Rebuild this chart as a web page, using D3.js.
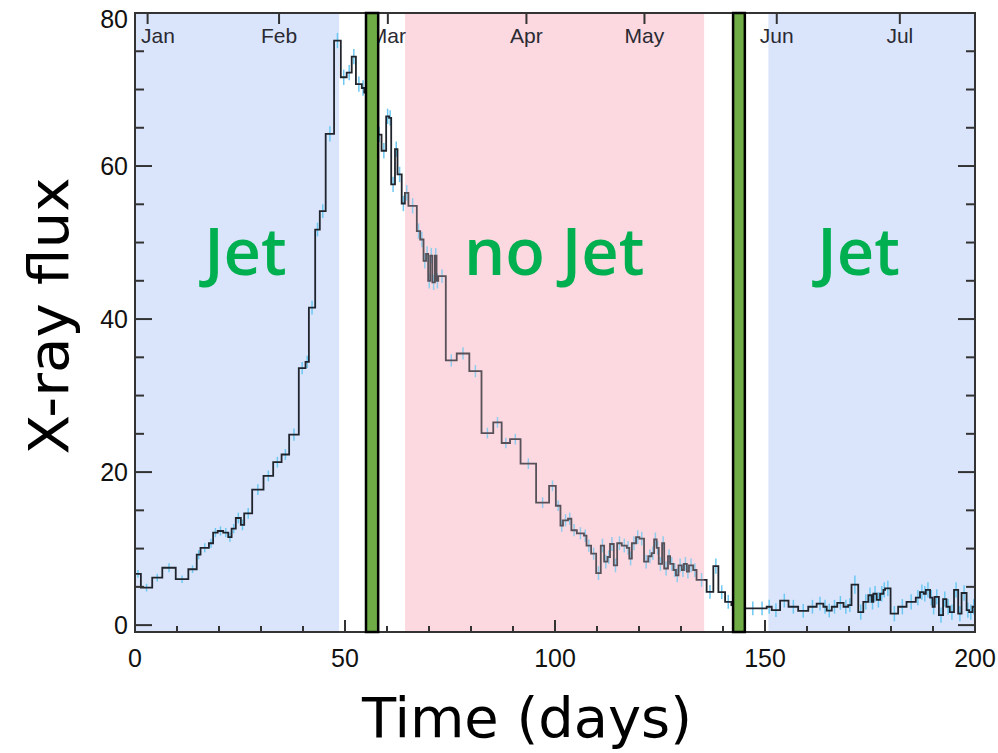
<!DOCTYPE html>
<html>
<head>
    <meta charset="utf-8">
    <title>X-ray flux light curve</title>
    <script src="https://d3js.org/d3.v7.min.js" charset="utf-8"></script>
    <style>
        html, body { margin: 0; padding: 0; background: #fff; }
    </style>
</head>
<body>
<div id="chart"></div>
<script>
// bin start (days), flux and error half-length
const binStart = [0, 1.4, 4.1, 6.5, 9.7, 12.7, 14.7, 15.6, 17.6, 18.6, 19.7, 21.0, 22.2, 23.0, 24.0, 25.2, 26.0, 27.9, 30.6, 32.9,
    34.9, 36.7, 39.0, 40.6, 41.4, 42.9, 44.0, 45.4, 47.4, 49.0, 50.4, 51.6, 52.6, 54.0, 54.6, 55.6,
    57.5, 58.7, 59.8, 60.5, 61.0, 61.9, 62.5, 63.5, 64.3, 65.1, 67.1, 67.9, 68.7, 69.3, 69.8, 70.3, 70.8, 71.4, 71.8, 72.2,
    74.0, 76.6, 79.6, 82.5, 85.3, 87.3, 89.3, 91.8, 95.5, 98.6, 100.2, 101.3, 101.9, 103.1, 103.9, 105.2, 106.9, 107.5, 108.6,
    109.8, 110.9, 111.7, 112.5, 113.1, 114.0, 114.8, 115.9, 117.1, 117.7, 118.3, 119.3, 120.1, 121.2, 122.2, 123.0, 123.6, 124.2,
    124.7, 125.5, 126.0, 126.9, 127.4, 128.2, 128.8, 129.4, 130.2, 130.7, 131.4, 131.9, 132.9, 133.7, 136.1, 137.7, 138.9, 140.5,
    142.0, 143.5, 146.0, 148.2, 150.4, 151.6, 153.6, 155.6, 157.9, 160.3, 162.3, 163.9, 164.7, 165.9, 167.2, 168.7, 169.8, 170.6,
    172.2, 173.4, 174.6, 175.4, 175.8, 176.6, 177.4, 178.2, 178.6, 179.9, 181.7, 183.7, 185.9, 186.9, 187.8, 188.3, 189.3, 189.9,
    190.4, 191.4, 192.4, 193.2, 194.0, 195.0, 196.0, 196.8, 198.0, 198.6, 199.4];
const binEnd = 200;
const flux = [6.7, 4.9, 6.2, 7.5, 6.0, 7.3, 9.2, 10.1, 10.7, 12.1, 12.3, 12.1, 11.5, 12.6, 14.0, 13.1, 14.6, 17.7, 19.5, 21.3,
    22.3, 24.9, 33.6, 34.4, 41.5, 51.7, 54.1, 64.2, 76.4, 71.6, 72.2, 74.3, 70.7, 70.2, 69.6, 66.0,
    64.1, 62.0, 66.5, 66.3, 57.6, 62.2, 58.9, 55.1, 56.5, 54.8, 51.5, 50.4, 47.6, 48.5, 45.0, 48.3, 44.8, 48.3, 45.0, 45.6,
    34.6, 35.5, 33.2, 25.1, 26.5, 23.8, 24.3, 21.1, 16.0, 18.2, 15.6, 13.0, 13.7, 13.9, 12.4, 12.0, 11.7, 10.4, 9.35,
    6.8, 10.4, 8.3, 8.9, 10.6, 7.8, 10.7, 10.4, 10.1, 8.7, 10.7, 11.5, 11.3, 8.3, 9.0, 9.4, 11.2, 10.1,
    8.0, 10.7, 7.4, 9.0, 8.0, 7.2, 6.5, 7.8, 7.2, 8.0, 7.0, 7.8, 7.2, 5.9, 4.35, 7.7, 4.3, 3.05,
    2.6, 2.2, 2.2, 2.2, 2.4, 1.96, 3.2, 2.4, 1.87, 2.4, 2.8, 2.4, 1.9, 2.4, 2.9, 2.4, 2.6, 5.3,
    1.7, 3.05, 3.9, 3.05, 4.1, 3.3, 4.1, 4.6, 4.8, 1.5, 2.4, 3.05, 3.6, 4.3, 4.1, 4.6, 3.6, 2.4,
    3.7, 1.3, 3.4, 2.4, 1.7, 4.6, 1.5, 4.2, 1.96, 1.7, 2.4];
const fluxErr = [0.5, 0.5, 0.5, 0.6, 0.5, 0.5, 0.6, 0.6, 0.6, 0.6, 0.6, 0.6, 0.6, 0.6, 0.7, 0.7, 0.7, 0.7, 0.7, 0.7,
    0.7, 0.8, 0.8, 0.8, 0.9, 0.9, 0.9, 1.0, 1.0, 1.0, 1.0, 1.0, 1.0, 1.0, 1.0, 1.0,
    1.0, 1.0, 1.0, 1.0, 1.0, 1.0, 1.0, 1.0, 1.0, 1.0, 1.0, 1.0, 1.0, 1.0, 1.0, 1.0, 1.0, 1.0, 1.0, 0.9,
    0.8, 0.8, 0.8, 0.7, 0.7, 0.7, 0.7, 0.7, 0.7, 0.7, 0.7, 0.8, 0.8, 0.8, 0.8, 0.8, 0.8, 0.8, 0.8,
    0.9, 0.9, 0.9, 0.9, 0.9, 0.9, 0.9, 0.9, 0.9, 0.9, 0.9, 0.9, 0.9, 0.9, 0.9, 0.9, 0.9, 0.9,
    0.9, 0.9, 0.9, 0.9, 0.9, 0.9, 0.9, 0.9, 0.9, 0.9, 0.9, 0.9, 0.9, 0.9, 0.9, 1.0, 0.9, 0.9,
    0.9, 0.9, 0.9, 0.9, 0.9, 0.9, 0.9, 0.9, 0.9, 0.9, 0.9, 0.9, 0.9, 0.9, 0.9, 0.9, 0.9, 1.2,
    1.0, 1.0, 1.0, 1.0, 1.0, 1.0, 1.0, 1.0, 1.0, 1.0, 1.0, 1.0, 1.0, 1.0, 1.0, 1.0, 1.0, 1.0,
    1.0, 1.0, 1.0, 1.0, 1.0, 1.0, 1.0, 1.0, 1.0, 1.0, 1.0];

// shaded phases (days)
const jetSpans = [[0, 48.6], [150.8, 200]];
const noJetSpans = [[64.3, 135.5]];
const transitionBars = [[55.0, 57.9], [142.4, 145.2]];
const phaseLabels = ["Jet", "no Jet", "Jet"];
const phaseLabelDays = [26.3, 99.8, 172.3];

// top axis months
const months = ["Jan", "Feb", "Mar", "Apr", "May", "Jun", "Jul"];
const monthDays = [3, 34.3, 60.2, 93.2, 121.3, 152.8, 182.1];

const xTicks = [0, 50, 100, 150, 200];
const yTicks = [0, 20, 40, 60, 80];

const width = 998, height = 753;
const plotLeft = 135, plotRight = 975, plotTop = 13, plotBottom = 632;

const svg = d3.select("#chart").append("svg")
    .attr("width", width)
    .attr("height", height);

const x = d3.scaleLinear().domain([0, 200]).range([plotLeft, plotRight]);
const y = d3.scaleLinear().domain([-0.9, 80]).range([plotBottom, plotTop]);

// background phases
svg.selectAll(".jet").data(jetSpans).enter().append("rect")
    .attr("x", d => x(d[0])).attr("width", d => x(d[1]) - x(d[0]))
    .attr("y", plotTop).attr("height", plotBottom - plotTop)
    .attr("fill", "#dae5fc");
svg.selectAll(".nojet").data(noJetSpans).enter().append("rect")
    .attr("x", d => x(d[0])).attr("width", d => x(d[1]) - x(d[0]))
    .attr("y", plotTop).attr("height", plotBottom - plotTop)
    .attr("fill", "#fdd9e0");

// build step data
const bins = binStart.map((t, i) => ({
    t0: t,
    t1: i < binStart.length - 1 ? binStart[i + 1] : binEnd,
    f: flux[i],
    e: fluxErr[i]
}));

// error bars at bin centres
svg.selectAll(".err").data(bins).enter().append("line")
    .attr("x1", d => x((d.t0 + d.t1) / 2)).attr("x2", d => x((d.t0 + d.t1) / 2))
    .attr("y1", d => y(d.f - d.e)).attr("y2", d => y(d.f + d.e))
    .attr("stroke", "#6cc8f2").attr("stroke-width", 1.5);

const steps = bins.map(d => [d.t0, d.f]).concat([[binEnd, flux[flux.length - 1]]]);
const line = d3.line()
    .x(d => x(d[0])).y(d => y(d[1]))
    .curve(d3.curveStepAfter);
svg.append("path")
    .datum(steps)
    .attr("fill", "none")
    .attr("stroke", "#20242c")
    .attr("stroke-width", 1.8)
    .attr("d", line);

// tint the curve like the reference overlays
svg.selectAll(".tint").data(noJetSpans).enter().append("rect")
    .attr("x", d => x(d[0])).attr("width", d => x(d[1]) - x(d[0]))
    .attr("y", plotTop).attr("height", plotBottom - plotTop)
    .attr("fill", "#fdd9e0").attr("opacity", 0.25);

// ticks: x minor every 10, major every 50
const axisColor = "#333";
const xMinor = d3.range(10, 200, 10);
svg.selectAll(".xt").data(xMinor).enter().append("line")
    .attr("x1", d => x(d)).attr("x2", d => x(d))
    .attr("y1", plotBottom).attr("y2", d => plotBottom - (d % 50 === 0 ? 12 : 6))
    .attr("stroke", axisColor).attr("stroke-width", 2);

const yMinor = d3.range(0, 81, 5);
[plotLeft, plotRight].forEach((edge, k) => {
    const dir = k === 0 ? 1 : -1;
    svg.selectAll(".yt" + k).data(yMinor).enter().append("line")
        .attr("x1", edge).attr("x2", d => edge + dir * (d % 20 === 0 ? 17 : 9))
        .attr("y1", d => y(d)).attr("y2", d => y(d))
        .attr("stroke", axisColor).attr("stroke-width", 2);
});

// month ticks along top
svg.selectAll(".mt").data(monthDays).enter().append("line")
    .attr("x1", d => x(d)).attr("x2", d => x(d))
    .attr("y1", plotTop).attr("y2", plotTop + 11)
    .attr("stroke", axisColor).attr("stroke-width", 2);
svg.selectAll(".ml").data(months).enter().append("text")
    .attr("x", (d, i) => i === 0 ? plotLeft + 6 : x(monthDays[i]))
    .attr("y", 43)
    .attr("text-anchor", (d, i) => i === 0 ? "start" : "middle")
    .attr("font-family", "Liberation Sans, Arial, sans-serif")
    .attr("font-size", 21)
    .attr("fill", "#2a2a33")
    .text(d => d);

// frame
svg.append("rect")
    .attr("x", plotLeft).attr("y", plotTop)
    .attr("width", plotRight - plotLeft).attr("height", plotBottom - plotTop)
    .attr("fill", "none").attr("stroke", axisColor).attr("stroke-width", 2);

// tick labels
svg.selectAll(".xl").data(xTicks).enter().append("text")
    .attr("x", d => x(d)).attr("y", 667)
    .attr("text-anchor", "middle")
    .attr("font-family", "Liberation Sans, Arial, sans-serif")
    .attr("font-size", 25)
    .attr("fill", "#111")
    .text(d => d);
svg.selectAll(".yl").data(yTicks).enter().append("text")
    .attr("x", 128).attr("y", d => d === 80 ? y(d) + 15 : y(d) + 9)
    .attr("text-anchor", "end")
    .attr("font-family", "Liberation Sans, Arial, sans-serif")
    .attr("font-size", 25)
    .attr("fill", "#111")
    .text(d => d);

// transition bars
svg.selectAll(".bar").data(transitionBars).enter().append("rect")
    .attr("x", d => x(d[0])).attr("width", d => x(d[1]) - x(d[0]))
    .attr("y", plotTop).attr("height", plotBottom - plotTop)
    .attr("fill", "#6fac46").attr("stroke", "#000").attr("stroke-width", 2.5);

// phase labels
svg.selectAll(".pl").data(phaseLabels).enter().append("text")
    .attr("x", (d, i) => x(phaseLabelDays[i]))
    .attr("y", y(45.7))
    .attr("text-anchor", "middle")
    .attr("font-family", "Open Sans, sans-serif")
    .attr("font-weight", 600)
    .attr("font-size", 65)
    .attr("fill", "#00b050")
    .text(d => d);

// axis titles
svg.append("text")
    .attr("x", 527).attr("y", 737)
    .attr("text-anchor", "middle")
    .attr("font-family", "DejaVu Sans, sans-serif")
    .attr("font-size", 56)
    .attr("textLength", 330)
    .attr("lengthAdjust", "spacingAndGlyphs")
    .attr("fill", "#000")
    .text("Time (days)");
svg.append("text")
    .attr("transform", "translate(68, 316) rotate(-90)")
    .attr("text-anchor", "middle")
    .attr("font-family", "DejaVu Sans, sans-serif")
    .attr("font-size", 56)
    .attr("textLength", 277)
    .attr("lengthAdjust", "spacingAndGlyphs")
    .attr("fill", "#000")
    .text("X-ray flux");
</script>
</body>
</html>
